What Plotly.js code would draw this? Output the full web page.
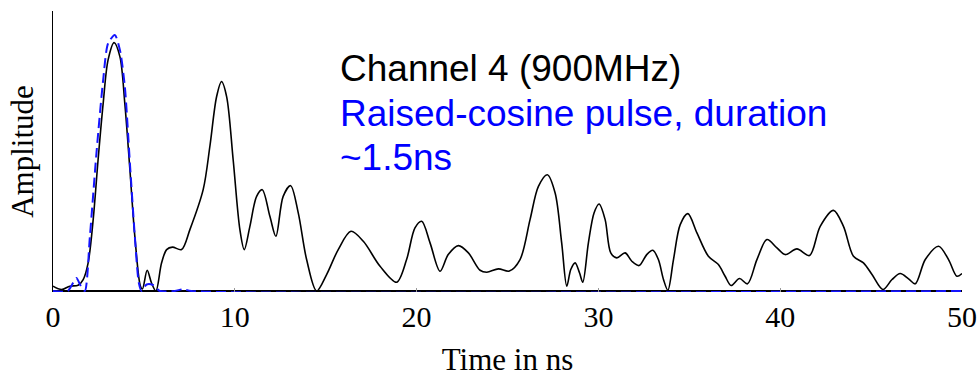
<!DOCTYPE html>
<html>
<head>
<meta charset="utf-8">
<script src="https://cdn.plot.ly/plotly-3.0.1.min.js"></script>
<style>
  html, body { margin: 0; padding: 0; background: #fff; }
  #chart { width: 979px; height: 379px; }
</style>
</head>
<body>
<div id="chart"></div>
<script>
// Measured channel impulse response (channel 4, 900 MHz), arbitrary amplitude units
const channelTime = [
  0, 0.47, 0.92, 1.38, 1.66, 1.93, 2.21, 2.48, 2.76, 3.03, 3.36, 3.68, 3.95, 4.23, 4.50, 4.81, 4.92,
  5.18, 5.42, 5.66, 5.97, 6.25, 6.57, 7.07, 7.53, 8.26, 8.63, 9.0, 9.27, 9.55, 9.91, 10.28, 10.52,
  10.83, 11.2, 11.51, 11.93, 12.26, 12.66, 13.07, 13.49, 13.95, 14.5, 15.05, 15.69, 16.39, 17.07,
  17.99, 18.9, 19.45, 19.91, 20.28, 20.74, 21.29, 21.74, 22.3, 22.85, 23.49, 23.86, 24.5, 25.1,
  25.69, 26.24, 26.7, 27.19, 27.62, 27.98, 28.26, 28.48, 28.72, 28.96, 29.14, 29.45, 29.76, 30.04,
  30.37, 30.68, 31.01, 31.47, 31.84, 32.24, 32.66, 32.99, 33.3, 33.58, 33.82, 34.13, 34.5, 34.92,
  35.42, 36.05, 36.6, 36.97, 37.3, 37.76, 38.2, 38.72, 39.27, 39.82, 40.28, 40.92, 41.61, 42.2,
  42.93, 43.48, 44.03, 44.58, 45.05, 45.65, 46.15, 46.6, 47.06, 47.43, 47.98, 48.71, 49.26, 49.72, 50.0
];
const channelAmp = [
  0.048, 0.015, 0.048, 0.058, 0.115, 0.28, 0.715, 1.315, 1.88, 2.315, 2.488, 2.348, 1.88, 1.215, 0.55, 0.048, 0.02,
  0.208, 0.08, 0.0, 0.28, 0.415, 0.44, 0.415, 0.615, 1.015, 1.45, 1.948, 2.098, 1.948, 1.315, 0.615, 0.415,
  0.648, 0.948, 1.015, 0.748, 0.548, 0.948, 1.055, 0.782, 0.315, 0.0, 0.165, 0.415, 0.598, 0.498,
  0.248, 0.088, 0.315, 0.632, 0.698, 0.482, 0.198, 0.365, 0.455, 0.382, 0.208, 0.188, 0.222, 0.2,
  0.315, 0.715, 1.048, 1.165, 0.982, 0.482, 0.048, 0.215, 0.282, 0.182, 0.088, 0.482, 0.782, 0.872,
  0.715, 0.382, 0.332, 0.382, 0.298, 0.255, 0.365, 0.408, 0.315, 0.115, 0.008, 0.315, 0.665, 0.775,
  0.582, 0.348, 0.265, 0.148, 0.055, 0.125, 0.072, 0.315, 0.515, 0.432, 0.365, 0.422, 0.355, 0.648,
  0.808, 0.648, 0.348, 0.282, 0.165, 0.015, 0.115, 0.175, 0.122, 0.072, 0.315, 0.448, 0.315, 0.148, 0.175
];

// Raised-cosine reference pulse, duration ~1.5 ns
const pulseTime = [
  0, 0.8, 1.1, 1.29, 1.5, 1.75, 2.03, 2.39, 2.76, 3.03, 3.40, 3.68, 3.95, 4.23, 4.5, 4.72, 4.87,
  5.15, 5.5, 5.88, 6.7, 7.15, 7.6, 50
];
const pulseAmp = [
  0, 0, 0.08, 0.13, 0.06, 0, 0.548, 1.38, 2.115, 2.48, 2.565, 2.415, 2.048, 1.28, 0.55, 0.082, 0,
  0.065, 0.06, 0, 0, 0.018, 0, 0
];

const tickValues = [0, 10, 20, 30, 40, 50];
const tickLabels = ['0', '10', '20', '30', '40', '50'];

const serif = '"Liberation Serif", "Times New Roman", serif';
const sans = '"Liberation Sans", Arial, sans-serif';

const traces = [
  {
    x: channelTime, y: channelAmp, type: 'scatter', mode: 'lines',
    line: { color: '#000000', width: 1.6, shape: 'spline', smoothing: 0.9 },
    hoverinfo: 'skip', showlegend: false
  },
  {
    x: pulseTime, y: pulseAmp, type: 'scatter', mode: 'lines',
    line: { color: '#1414ff', width: 2, dash: '10px,5px', shape: 'spline', smoothing: 0.7 },
    hoverinfo: 'skip', showlegend: false
  }
];

const layout = {
  width: 979, height: 379,
  margin: { l: 53, r: 17, t: 11, b: 87 },
  paper_bgcolor: '#ffffff', plot_bgcolor: '#ffffff',
  showlegend: false,
  xaxis: {
    range: [0, 50],
    tickvals: tickValues, ticktext: tickLabels,
    ticks: 'inside', ticklen: 4, tickwidth: 1, tickcolor: '#999999',
    ticklabelstandoff: 4,
    showline: false, showgrid: false, zeroline: false,
    tickfont: { family: serif, size: 30, color: '#000000' },
    title: { text: 'Time in ns', font: { family: serif, size: 31, color: '#000000' }, standoff: 16 },
    automargin: false, fixedrange: true
  },
  yaxis: {
    range: [-0.01, 2.805],
    showticklabels: false, ticks: '',
    showline: true, linecolor: '#000000', linewidth: 1.5,
    showgrid: false,
    zeroline: true, zerolinecolor: '#000000', zerolinewidth: 1.5,
    title: { text: 'Amplitude', font: { family: serif, size: 31, color: '#000000' }, standoff: 8 },
    automargin: false, fixedrange: true
  },
  annotations: [
    { text: 'Channel 4 (900MHz)', xref: 'paper', yref: 'paper', x: 0.313, y: 0.794,
      xanchor: 'left', yanchor: 'middle', showarrow: false,
      font: { family: sans, size: 37, color: '#000000' } },
    { text: 'Raised-cosine pulse, duration', xref: 'paper', yref: 'paper', x: 0.313, y: 0.636,
      xanchor: 'left', yanchor: 'middle', showarrow: false,
      font: { family: sans, size: 37, color: '#0000ff' } },
    { text: '~1.5ns', xref: 'paper', yref: 'paper', x: 0.313, y: 0.480,
      xanchor: 'left', yanchor: 'middle', showarrow: false,
      font: { family: sans, size: 37, color: '#0000ff' } }
  ]
};

Plotly.newPlot('chart', traces, layout, { staticPlot: true, displayModeBar: false });
</script>
</body>
</html>
